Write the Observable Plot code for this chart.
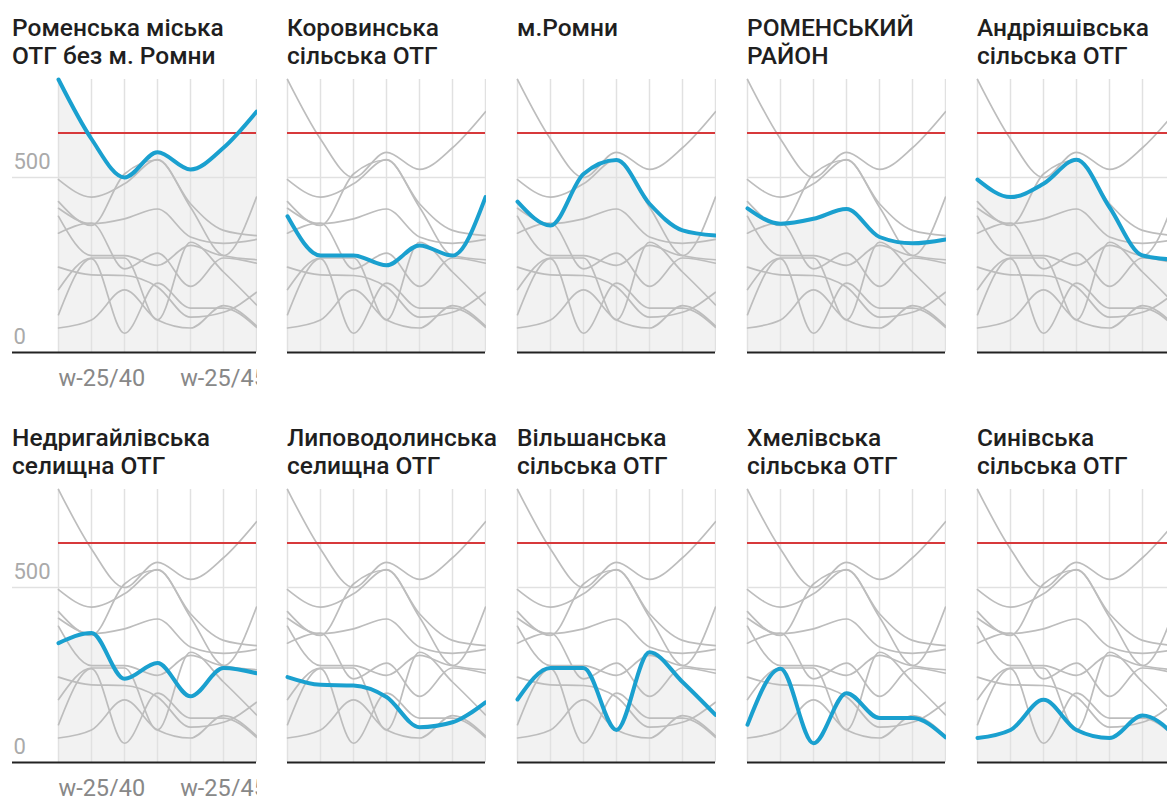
<!DOCTYPE html>
<html><head><meta charset="utf-8">
<script src="https://cdn.jsdelivr.net/npm/d3@7"></script>
<script src="https://cdn.jsdelivr.net/npm/@observablehq/plot@0.6"></script>
<style>
html,body{margin:0;padding:0;background:#fff;}
body{width:1167px;height:796px;overflow:hidden;position:relative;font-family:Roboto,sans-serif;}
.title{position:absolute;font-family:Roboto,sans-serif;font-weight:500;font-size:24.5px;line-height:28px;color:#1f1f1f;white-space:pre;}
.panel{position:absolute;}
.panel svg{max-width:none !important;}
</style></head><body>
<script>
// ---- data ----
const weeks = [40, 41, 42, 43, 44, 45, 46];
const tickWeeks = [40, 45];
const tickLabels = ["w-25/40", "w-25/45"];
const yTicks = [0, 500];
const threshold = 627;
const titles = [
  "Роменська міська\nОТГ без м. Ромни",
  "Коровинська\nсільська ОТГ",
  "м.Ромни",
  "РОМЕНСЬКИЙ\nРАЙОН",
  "Андріяшівська\nсільська ОТГ",
  "Недригайлівська\nселищна ОТГ",
  "Липоводолинська\nселищна ОТГ",
  "Вільшанська\nсільська ОТГ",
  "Хмелівська\nсільська ОТГ",
  "Синівська\nсільська ОТГ"
];
const romenskaOtg     = [780, 610, 500, 572, 523, 585, 688];
const korovynska      = [389, 277, 277, 249, 306, 277, 444];
const romny           = [431, 363, 510, 550, 425, 349, 334];
const romenskyiRaion  = [412, 368, 382, 410, 330, 312, 323];
const andriiashivska  = [494, 444, 482, 551, 415, 277, 265];
const nedryhailivska  = [341, 370, 239, 284, 189, 270, 255];
const lypovodolynska  = [244, 222, 220, 187, 101, 115, 172];
const vilshanska      = [180, 270, 270,  93, 315, 230, 136];
const khmelivska      = [108, 268,  55, 198, 127, 127,  72];
const synivska        = [ 70,  93, 179,  93,  70, 134,  76];
const seriesValues = [romenskaOtg, korovynska, romny, romenskyiRaion, andriiashivska,
  nedryhailivska, lypovodolynska, vilshanska, khmelivska, synivska];

// ---- table ----
const table = seriesValues.flatMap((vals, k) => weeks.map((w, i) => ({key: k, week: w, value: vals[i]})));

const plotLefts = [58, 287, 517, 747, 977];
const innerW = 198, innerH = 273, rowStep = 410, plotTop = 79;
const curve = "monotone-x";

titles.forEach((t, k) => {
  const col = k % 5, row = Math.floor(k / 5);
  const first = col === 0;
  const mL = first ? 46 : 2, mR = 1, mT = 7, mB = 44;
  const hi = table.filter(d => d.key === k);
  const others = table.filter(d => d.key !== k);
  const marks = [
    Plot.areaY(hi, {x: "week", y: "value", curve, fill: "#f2f2f2"}),
    Plot.ruleX(weeks, {stroke: "#e1e1e1", strokeWidth: 1.5}),
    Plot.ruleY([500], {stroke: "#e1e1e1", strokeWidth: 1.5, insetLeft: first ? -46 : 0}),
    Plot.lineY(others, {x: "week", y: "value", z: "key", curve, stroke: "#bdbdbd", strokeWidth: 1.7}),
    Plot.ruleY([threshold], {stroke: "#d7393b", strokeWidth: 2}),
    Plot.lineY(hi, {x: "week", y: "value", curve, stroke: "#1aa0cf", strokeWidth: 4}),
    Plot.ruleY([0], {stroke: "#222", strokeWidth: 2, insetLeft: first ? -46 : 0})
  ];
  if (first) {
    marks.push(Plot.text(yTicks, {y: d => d, text: d => String(d), frameAnchor: "left",
      textAnchor: "start", lineAnchor: "bottom", dx: -45, dy: -9, fontSize: 22, fill: "#aaaaaa"}));
    marks.push(Plot.text([tickWeeks[0]], {x: d => d, text: () => tickLabels[0], frameAnchor: "bottom",
      textAnchor: "start", lineAnchor: "bottom", dy: 33, fontSize: 23.5, fill: "#888888"}));
    marks.push(Plot.text([tickWeeks[1]], {x: d => d, text: () => tickLabels[1], frameAnchor: "bottom",
      textAnchor: "middle", lineAnchor: "bottom", dy: 33, fontSize: 23.5, fill: "#888888"}));
  }
  const W = mL + innerW + mR, H = mT + innerH + mB;
  const svg = Plot.plot({
    width: W,
    height: H,
    marginLeft: mL, marginRight: mR, marginTop: mT, marginBottom: mB,
    x: {domain: [40, 46], axis: null},
    y: {domain: [0, 780], axis: null},
    style: {fontFamily: "Roboto, sans-serif", background: "transparent"},
    marks
  });
  svg.style.overflow = "hidden";
  svg.style.maxWidth = "none";
  svg.style.width = W + "px";
  svg.style.height = H + "px";
  const wrap = document.createElement("div");
  wrap.className = "panel";
  wrap.style.left = (plotLefts[col] - mL) + "px";
  wrap.style.top = (plotTop + row * rowStep - mT) + "px";
  wrap.style.width = W + "px";
  wrap.style.height = H + "px";
  wrap.appendChild(svg);
  document.body.appendChild(wrap);

  const title = document.createElement("div");
  title.className = "title";
  title.textContent = t;
  title.style.left = (first ? 12 : plotLefts[col]) + "px";
  title.style.top = (14 + row * rowStep) + "px";
  document.body.appendChild(title);
});
</script>
</body></html>
